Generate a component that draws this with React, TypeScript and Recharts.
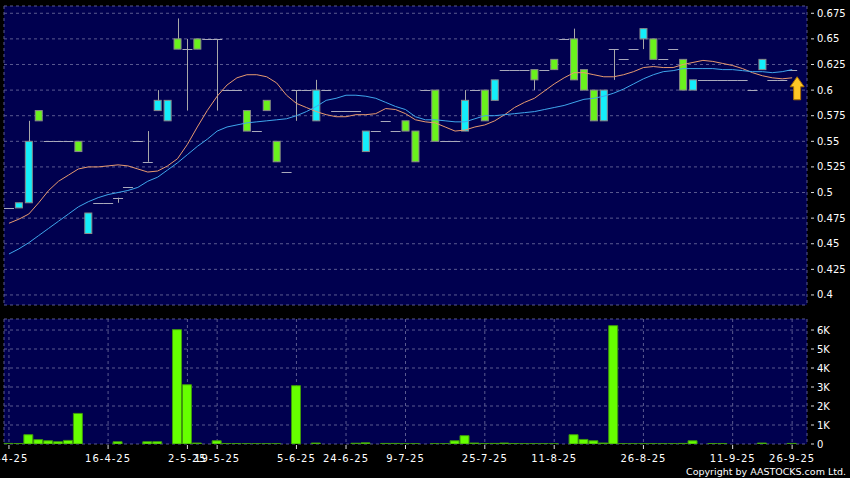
import React from 'react';
import { ComposedChart, Bar, Line, XAxis, YAxis, CartesianGrid, ReferenceDot } from 'recharts';

// ---- data ----
const opens = [
  0.485, 0.485, 0.49, 0.58, 0.55, 0.55, 0.55, 0.55, 0.46, 0.49,
  0.49, 0.495, 0.505, 0.55, 0.53, 0.58, 0.57, 0.65, 0.64, 0.65,
  0.65, 0.65, 0.6, 0.6, 0.58, 0.56, 0.59, 0.55, 0.52, 0.6,
  0.6, 0.57, 0.6, 0.58, 0.58, 0.58, 0.54, 0.56, 0.57, 0.56,
  0.57, 0.56, 0.6, 0.6, 0.55, 0.55, 0.56, 0.6, 0.6, 0.59,
  0.62, 0.62, 0.62, 0.62, 0.62, 0.63, 0.65, 0.65, 0.62, 0.6,
  0.57, 0.64, 0.63, 0.64, 0.65, 0.65, 0.63, 0.64, 0.63, 0.6,
  0.61, 0.61, 0.61, 0.61, 0.61, 0.6, 0.62, 0.61, 0.61, 0.62,
];
const highs = [
  0.485, 0.49, 0.57, 0.58, 0.55, 0.55, 0.55, 0.55, 0.48, 0.49,
  0.49, 0.495, 0.505, 0.55, 0.56, 0.6, 0.59, 0.67, 0.65, 0.65,
  0.65, 0.65, 0.6, 0.6, 0.58, 0.56, 0.59, 0.55, 0.52, 0.6,
  0.6, 0.61, 0.6, 0.58, 0.58, 0.58, 0.56, 0.56, 0.57, 0.56,
  0.57, 0.56, 0.6, 0.6, 0.55, 0.55, 0.6, 0.6, 0.6, 0.61,
  0.62, 0.62, 0.62, 0.62, 0.62, 0.63, 0.65, 0.66, 0.62, 0.6,
  0.6, 0.64, 0.63, 0.64, 0.66, 0.65, 0.63, 0.64, 0.63, 0.61,
  0.61, 0.61, 0.61, 0.61, 0.61, 0.6, 0.63, 0.61, 0.61, 0.62,
];
const lows = [
  0.485, 0.485, 0.49, 0.57, 0.55, 0.55, 0.55, 0.54, 0.46, 0.49,
  0.49, 0.49, 0.505, 0.55, 0.53, 0.58, 0.57, 0.64, 0.58, 0.64,
  0.65, 0.58, 0.6, 0.6, 0.56, 0.56, 0.58, 0.53, 0.52, 0.57,
  0.6, 0.57, 0.6, 0.58, 0.58, 0.58, 0.54, 0.56, 0.57, 0.56,
  0.56, 0.53, 0.6, 0.55, 0.55, 0.55, 0.56, 0.6, 0.57, 0.59,
  0.62, 0.62, 0.62, 0.6, 0.62, 0.62, 0.65, 0.61, 0.6, 0.57,
  0.57, 0.61, 0.63, 0.64, 0.64, 0.63, 0.63, 0.64, 0.6, 0.6,
  0.61, 0.61, 0.61, 0.61, 0.61, 0.6, 0.62, 0.61, 0.61, 0.62,
];
const closes = [
  0.485, 0.49, 0.55, 0.57, 0.55, 0.55, 0.55, 0.54, 0.48, 0.49,
  0.49, 0.495, 0.505, 0.55, 0.53, 0.59, 0.59, 0.64, 0.64, 0.64,
  0.65, 0.65, 0.6, 0.6, 0.56, 0.56, 0.58, 0.53, 0.52, 0.6,
  0.6, 0.6, 0.6, 0.58, 0.58, 0.58, 0.56, 0.56, 0.57, 0.56,
  0.56, 0.53, 0.6, 0.55, 0.55, 0.55, 0.59, 0.6, 0.57, 0.61,
  0.62, 0.62, 0.62, 0.61, 0.62, 0.62, 0.65, 0.61, 0.6, 0.57,
  0.6, 0.64, 0.63, 0.64, 0.66, 0.63, 0.63, 0.64, 0.6, 0.61,
  0.61, 0.61, 0.61, 0.61, 0.61, 0.6, 0.63, 0.61, 0.61, 0.62,
];
const ma10 = [
  0.47, 0.474, 0.479, 0.49, 0.502, 0.511, 0.517, 0.523, 0.525, 0.525,
  0.526, 0.527, 0.526, 0.523, 0.52, 0.521, 0.526, 0.533, 0.547, 0.564,
  0.58, 0.594, 0.605, 0.612, 0.615, 0.615, 0.613, 0.607, 0.595, 0.587,
  0.583, 0.579, 0.576, 0.574, 0.574, 0.576, 0.576, 0.577, 0.582, 0.581,
  0.577, 0.571, 0.569, 0.568, 0.564, 0.56, 0.561, 0.564, 0.566, 0.57,
  0.576, 0.583, 0.588, 0.592, 0.599, 0.606, 0.612, 0.617, 0.617, 0.615,
  0.613, 0.613, 0.615, 0.618, 0.622, 0.623, 0.622, 0.622, 0.625, 0.627,
  0.629, 0.628, 0.626, 0.624, 0.621, 0.617, 0.614, 0.612, 0.611, 0.612,
];
const ma20 = [
  0.44, 0.445, 0.451, 0.458, 0.465, 0.472, 0.479, 0.486, 0.491, 0.495,
  0.498, 0.5, 0.502, 0.505, 0.511, 0.515, 0.522, 0.529, 0.537, 0.545,
  0.552, 0.56, 0.564, 0.566, 0.568, 0.569, 0.57, 0.571, 0.572, 0.575,
  0.579, 0.584, 0.59, 0.592, 0.595, 0.595, 0.594, 0.592, 0.588, 0.584,
  0.581, 0.574, 0.571, 0.571, 0.57, 0.569, 0.569, 0.572, 0.575, 0.575,
  0.576, 0.577, 0.578, 0.579, 0.581, 0.583, 0.585, 0.588, 0.591, 0.592,
  0.594, 0.597, 0.601, 0.606, 0.611, 0.615, 0.618, 0.619, 0.621, 0.621,
  0.621, 0.621, 0.62, 0.62, 0.619, 0.618, 0.618, 0.617, 0.618, 0.62,
];
const volumesK = [
  0.03, 0.02, 0.49, 0.23, 0.17, 0.12, 0.19, 1.61, 0, 0,
  0, 0.12, 0, 0, 0.12, 0.12, 0, 6.02, 3.12, 0.05,
  0, 0.17, 0.02, 0.02, 0.01, 0.01, 0.01, 0.01, 0, 3.07,
  0, 0.05, 0, 0, 0, 0.04, 0.06, 0, 0.03, 0.03,
  0.01, 0.01, 0, 0.01, 0.01, 0.17, 0.44, 0.05, 0.02, 0.03,
  0.05, 0.02, 0.01, 0.01, 0.01, 0.01, 0, 0.49, 0.24, 0.17,
  0.05, 6.23, 0.01, 0.01, 0.01, 0.01, 0.01, 0.01, 0.03, 0.17,
  0, 0.02, 0.02, 0, 0, 0, 0.05, 0, 0, 0.03,
];
const tickSlots = [0, 10, 18, 21, 29, 34, 40, 48, 55, 64, 73, 79];
const tickLabels = ['1-4-25', '16-4-25', '2-5-25', '19-5-25', '5-6-25', '24-6-25', '9-7-25', '25-7-25', '11-8-25', '26-8-25', '11-9-25', '26-9-25'];
const priceTicks = [0.4, 0.425, 0.45, 0.475, 0.5, 0.525, 0.55, 0.575, 0.6, 0.625, 0.65, 0.675];
const volTicks = [0, 1, 2, 3, 4, 5, 6];
const arrowLevel = 0.613;

// one extra empty slot at the right end of the axis
const rows = Array.from({ length: opens.length + 1 }, (_, i) =>
  i < opens.length
    ? {
        slot: i,
        open: opens[i],
        high: highs[i],
        low: lows[i],
        close: closes[i],
        range: [lows[i], highs[i]],
        ma10: ma10[i],
        ma20: ma20[i],
        vol: volumesK[i],
      }
    : { slot: i }
);

// ---- styles ----
const PLOT_BG = '#00004f';
const GRID = '#5a5a90';
const CYAN = '#14eefa';
const GREEN = '#6af21c';
const BORDER = '#8a8a8a';
const WICK = '#a8a8a8';
const DASHC = '#a9a9bb';
const FONT = 'DejaVu Sans';

function Candle(props: any) {
  const { x, y, width, height, payload } = props;
  if (x == null || y == null || !payload || payload.high == null) return null;
  const { open, high, low, close } = payload;
  const top = height < 0 ? y + height : y;
  const h = Math.abs(height || 0);
  const cx = Math.round(x + width / 2) + 0.5;
  if (high === low) {
    const yy = Math.round(top) + 0.5;
    return <line x1={x - 1} x2={x + width + 1} y1={yy} y2={yy} stroke={DASHC} strokeWidth={1} />;
  }
  const ppu = h / (high - low);
  const py = (v: number) => top + (high - v) * ppu;
  const wick = <line x1={cx} x2={cx} y1={top} y2={top + h} stroke={WICK} strokeWidth={1} />;
  if (open === close) {
    const yy = Math.round(py(open)) + 0.5;
    return (
      <g>
        {wick}
        <line x1={x - 1} x2={x + width + 1} y1={yy} y2={yy} stroke={DASHC} strokeWidth={1} />
      </g>
    );
  }
  const bTop = py(Math.max(open, close));
  const bBot = py(Math.min(open, close));
  const fill = close > open ? CYAN : GREEN;
  return (
    <g>
      {wick}
      <rect x={x + 0.5} y={bTop} width={width - 1} height={Math.max(bBot - bTop, 1)} fill={fill} stroke={BORDER} strokeWidth={1} />
    </g>
  );
}

function PriceTick(props: any) {
  const { x, y, payload } = props;
  const v = Math.round(payload.value * 1000) / 1000;
  return (
    <g>
      <line x1={x + 4} x2={x + 7} y1={y} y2={y} stroke="#dddddd" />
      <text x={x + 10} y={y} dy="0.35em" fill="#ffffff" fontSize={10} fontFamily={FONT}>
        {String(v)}
      </text>
    </g>
  );
}

function VolTick(props: any) {
  const { x, y, payload } = props;
  const v = payload.value;
  return (
    <g>
      <line x1={x + 4} x2={x + 7} y1={y} y2={y} stroke="#dddddd" />
      <text x={x + 10} y={y} dy="0.35em" fill="#ffffff" fontSize={10} fontFamily={FONT}>
        {v === 0 ? '0' : `${v}K`}
      </text>
    </g>
  );
}

function DateTick(props: any) {
  const { x, y, payload } = props;
  const idx = tickSlots.indexOf(payload.value);
  if (idx < 0) return null;
  return (
    <g>
      <line x1={x} x2={x} y1={y + 1} y2={y + 5} stroke="#dddddd" />
      <text x={x} y={y + 14} dy="0.35em" textAnchor="middle" fill="#ffffff" fontSize={10} letterSpacing={1} fontFamily={FONT}>
        {tickLabels[idx]}
      </text>
    </g>
  );
}

function Arrow(props: any) {
  const { cx, cy } = props;
  if (cx == null || cy == null) return null;
  const x = cx + 5;
  const t = cy;
  const d = `M${x},${t} L${x + 7},${t + 10} L${x + 3.5},${t + 10} L${x + 3.5},${t + 23} L${x - 3.5},${t + 23} L${x - 3.5},${t + 10} L${x - 7},${t + 10} Z`;
  return <path d={d} fill="#ffc726" stroke="#a86d00" strokeWidth={1} />;
}

export default function App() {
  return (
    <div style={{ position: 'absolute', left: 0, top: 0, width: 850, height: 478, background: '#000', overflow: 'hidden', fontFamily: FONT }}>
      <div style={{ position: 'absolute', left: 0, top: 0 }}>
        <ComposedChart width={850} height={312} data={rows} margin={{ top: 6, right: 0, bottom: 7, left: 4 }} barSize={8}>
          <CartesianGrid stroke={GRID} strokeDasharray="3 3" fill={PLOT_BG} fillOpacity={1} />
          <XAxis dataKey="slot" type="category" ticks={tickSlots} interval={0} height={0} tick={false} axisLine={false} tickLine={false} />
          <YAxis
            orientation="right"
            width={43}
            domain={[0.3902, 0.6821]}
            allowDataOverflow
            ticks={priceTicks}
            interval={0}
            axisLine={false}
            tickLine={false}
            tickSize={0}
            tickMargin={0}
            tick={<PriceTick />}
          />
          <Bar dataKey="range" shape={<Candle />} isAnimationActive={false} />
          <Line dataKey="ma10" stroke="#e79a70" strokeWidth={1} dot={false} activeDot={false} isAnimationActive={false} />
          <Line dataKey="ma20" stroke="#3fa6ec" strokeWidth={1} dot={false} activeDot={false} isAnimationActive={false} />
          <ReferenceDot x={79} y={arrowLevel} r={0} shape={<Arrow />} />
        </ComposedChart>
      </div>
      <div style={{ position: 'absolute', left: 0, top: 310 }}>
        <ComposedChart width={850} height={168} data={rows} margin={{ top: 9, right: 0, bottom: 14, left: 4 }} barSize={9}>
          <CartesianGrid stroke={GRID} strokeDasharray="3 3" fill={PLOT_BG} fillOpacity={1} />
          <XAxis
            dataKey="slot"
            type="category"
            ticks={tickSlots}
            interval={0}
            height={20}
            axisLine={false}
            tickLine={false}
            tickSize={0}
            tickMargin={0}
            tick={<DateTick />}
          />
          <YAxis
            orientation="right"
            width={43}
            domain={[0, 6.58]}
            allowDataOverflow
            ticks={volTicks}
            interval={0}
            axisLine={false}
            tickLine={false}
            tickSize={0}
            tickMargin={0}
            tick={<VolTick />}
          />
          <Bar dataKey="vol" fill="#66ff00" stroke="#3f9a0c" strokeWidth={1} isAnimationActive={false} />
        </ComposedChart>
      </div>
      <div style={{ position: 'absolute', right: 4, top: 466, color: '#ffffff', fontSize: 9.5, lineHeight: '11px', fontFamily: FONT, whiteSpace: 'nowrap' }}>
        Copyright by AASTOCKS.com Ltd.
      </div>
    </div>
  );
}
